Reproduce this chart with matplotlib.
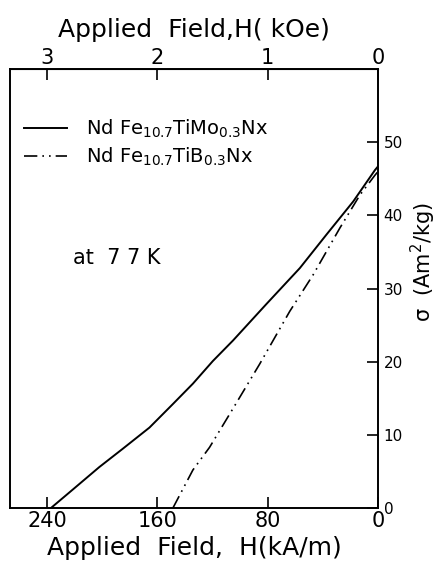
import matplotlib.pyplot as plt

# solid curve: NdFe10.7TiMo0.3Nx
h_mo = [237.3, 221.6, 202.2, 185.2, 165.8, 148.9, 134.3, 119.8, 105.2, 80.9,
        56.7, 37.3, 18.0, 2.2, 0]
s_mo = [0, 2.5, 5.6, 8.1, 11.0, 14.2, 17.0, 20.1, 22.9, 27.9,
        32.8, 37.4, 41.9, 46.2, 46.7]

# dash-dot curve: NdFe10.7TiB0.3Nx
h_b = [148.8, 134.3, 122.2, 105.2, 85.8, 64.0, 47.0, 27.6, 13.1, 2.2, 0]
s_b = [0, 5.2, 8.3, 13.6, 19.7, 26.9, 31.9, 38.3, 42.8, 45.5, 46.0]

x_ticks = [240, 160, 80, 0]
y_ticks = [0, 10, 20, 30, 40, 50]
top_ticks = [3, 2, 1, 0]

plt.rcParams['mathtext.default'] = 'regular'

fig = plt.figure(figsize=(4.42, 5.76), dpi=100)
ax = fig.add_axes([0.0226, 0.118, 0.8326, 0.762])

ax.plot(h_mo, s_mo, color='black', lw=1.4, label=r'Nd Fe$_{10.7}$TiMo$_{0.3}$Nx')
ax.plot(h_b, s_b, color='black', lw=1.2, linestyle=(0, (8, 3, 1, 3, 1, 3)),
        label=r'Nd Fe$_{10.7}$TiB$_{0.3}$Nx')

ax.set_xlim(267, 0)
ax.set_ylim(0, 60)

ax.set_xticks(x_ticks)
ax.set_xticklabels([str(t) for t in x_ticks], fontsize=15)
ax.yaxis.tick_right()
ax.yaxis.set_label_position('right')
ax.set_yticks(y_ticks)
ax.set_yticklabels([str(t) for t in y_ticks], fontsize=11)
ax.tick_params(axis='x', direction='in', length=8, width=1.2, pad=2)
ax.tick_params(axis='y', direction='in', length=8, width=1.2, pad=4)

for sp in ax.spines.values():
    sp.set_linewidth(1.4)

ax.set_xlabel('Applied  Field,  H(kA/m)', fontsize=18, labelpad=4)
ax.set_ylabel(r'$\sigma$  (Am$^2$/kg)', fontsize=15)
ax.yaxis.set_label_coords(1.085, 0.56)

top = ax.secondary_xaxis('top', functions=(lambda h: h / 80, lambda k: k * 80))
top.set_xticks(top_ticks)
top.set_xticklabels([str(t) for t in top_ticks], fontsize=15)
top.tick_params(direction='in', length=8, width=1.2, pad=1)
top.set_xlabel('Applied  Field,H( kOe)', fontsize=18, labelpad=8)

ax.text(0.17, 0.57, 'at  7 7 K', transform=ax.transAxes, fontsize=15, va='center')

ax.legend(loc='upper left', bbox_to_anchor=(-0.01, 0.93), frameon=False,
          fontsize=14, handlelength=2.2, handletextpad=1.0, labelspacing=0.3)

fig.savefig('out.png', dpi=100)
